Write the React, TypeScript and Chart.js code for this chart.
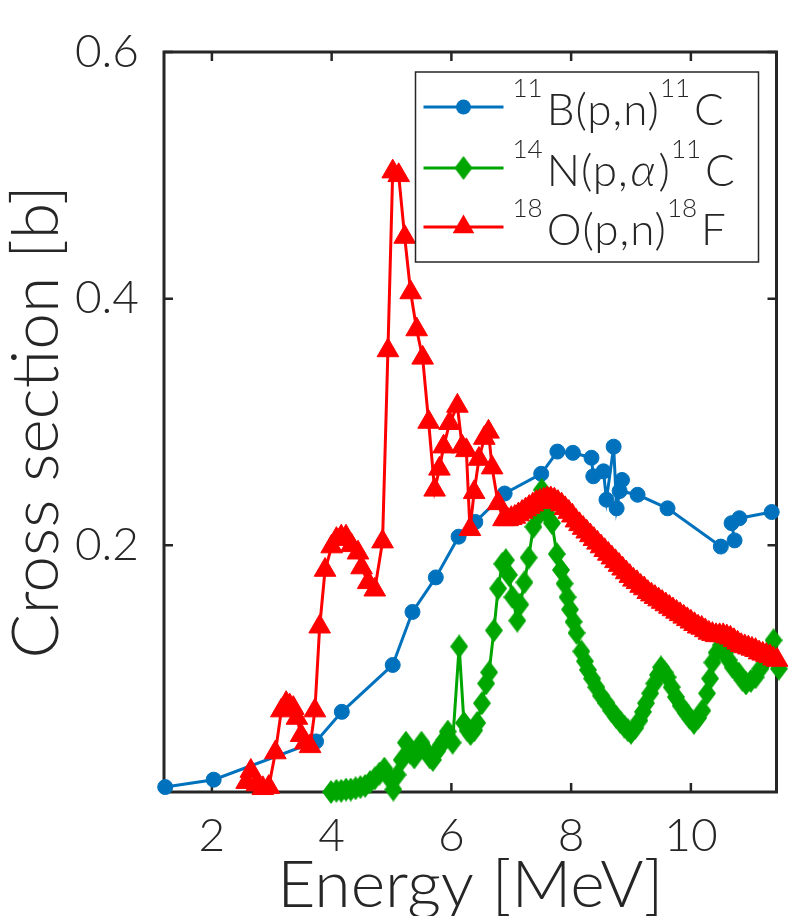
import React, { useEffect, useRef } from "react";
import { Chart, registerables } from "chart.js";

Chart.register(...registerables);

// ---------- data ----------
const X_TICKS = [2, 4, 6, 8, 10];
const X_TICK_LABELS = ["2", "4", "6", "8", "10"];
const Y_TICKS = [0.2, 0.4, 0.6];
const Y_TICK_LABELS = ["0.2", "0.4", "0.6"];
const X_MIN = 1.2;
const X_MAX = 11.43;
const Y_MIN = 0;
const Y_MAX = 0.6;
const X_TITLE = "Energy [MeV]";
const Y_TITLE = "Cross section [b]";
const SERIES_LABELS = ["¹¹B(p,n)¹¹C", "¹⁴N(p,α)¹¹C", "¹⁸O(p,n)¹⁸F"];

// 11B(p,n)11C
const B11_E = [1.22, 2.03, 3.74, 4.17, 5.02, 5.35, 5.74, 6.12, 6.4, 6.89, 7.5, 7.77, 8.03, 8.34, 8.37, 8.54, 8.59, 8.71, 8.76, 8.85, 8.81, 9.11, 9.61, 10.5, 10.73, 10.68, 10.81, 11.35];
const B11_XS = [0.004, 0.010, 0.041, 0.065, 0.103, 0.146, 0.174, 0.207, 0.219, 0.242, 0.258, 0.276, 0.275, 0.271, 0.256, 0.260, 0.237, 0.280, 0.230, 0.253, 0.244, 0.241, 0.230, 0.199, 0.204, 0.218, 0.222, 0.227];

// 14N(p,alpha)11C
const N14_E = [3.99, 4.08, 4.16, 4.24, 4.32, 4.40, 4.48, 4.56, 4.64, 4.72, 4.80, 4.88, 4.95,
  5.03, 5.10, 5.17, 5.24, 5.31, 5.38, 5.45, 5.50, 5.57, 5.64, 5.69, 5.76, 5.82, 5.88, 5.94, 6.02,
  6.13, 6.21, 6.27, 6.32, 6.38, 6.43, 6.51, 6.58, 6.63, 6.71, 6.78, 6.85, 6.91, 6.96, 7.02, 7.10, 7.15, 7.22, 7.29, 7.37, 7.45, 7.51, 7.59, 7.68, 7.76,
  7.83, 7.89, 7.94, 7.98, 8.04, 8.09, 8.17, 8.23, 8.28, 8.35, 8.42, 8.50, 8.59, 8.67, 8.75, 8.82, 8.89, 8.95, 9.00,
  9.07, 9.14, 9.20, 9.25, 9.32, 9.39, 9.45, 9.50, 9.56, 9.61, 9.68, 9.75, 9.83, 9.92, 9.98, 10.05,
  10.12, 10.19, 10.27, 10.32, 10.36, 10.43, 10.50, 10.57, 10.63, 10.70, 10.80, 10.86, 10.92, 11.00, 11.08, 11.16, 11.25, 11.32, 11.38, 11.47];
const N14_XS = [0.000, 0.001, 0.001, 0.002, 0.002, 0.003, 0.004, 0.005, 0.008, 0.011, 0.015, 0.019, 0.012,
  0.002, 0.014, 0.026, 0.040, 0.032, 0.028, 0.035, 0.040, 0.034, 0.028, 0.026, 0.033, 0.038, 0.042, 0.049, 0.040,
  0.118, 0.056, 0.050, 0.047, 0.050, 0.056, 0.072, 0.088, 0.097, 0.131, 0.165, 0.185, 0.188, 0.176, 0.158, 0.139, 0.152, 0.170, 0.190, 0.215, 0.224, 0.245, 0.226, 0.218, 0.193,
  0.180, 0.169, 0.158, 0.148, 0.138, 0.129, 0.114, 0.106, 0.099, 0.092, 0.085, 0.078, 0.072, 0.066, 0.061, 0.057, 0.053, 0.050, 0.048,
  0.052, 0.058, 0.065, 0.072, 0.080, 0.088, 0.095, 0.101, 0.097, 0.093, 0.085, 0.077, 0.070, 0.064, 0.060, 0.056,
  0.060, 0.066, 0.080, 0.092, 0.105, 0.113, 0.119, 0.113, 0.107, 0.101, 0.096, 0.091, 0.088, 0.090, 0.093, 0.100, 0.107, 0.115, 0.123, 0.100];

// 18O(p,n)18F
const O18_E = [2.58, 2.65, 2.75, 2.85, 2.95, 3.06, 3.16, 3.24, 3.30, 3.36, 3.42, 3.49, 3.56, 3.64, 3.72, 3.80, 3.89, 4.00, 4.08, 4.16, 4.24, 4.33, 4.44, 4.50, 4.61, 4.72, 4.85,
  4.94, 5.02, 5.12, 5.22, 5.32, 5.42, 5.52, 5.62, 5.72, 5.80, 5.87, 5.97, 6.10, 6.18, 6.25, 6.31, 6.38, 6.46, 6.55, 6.62, 6.68, 6.78, 6.87,
  6.94, 7.00, 7.06, 7.12, 7.18, 7.24, 7.30, 7.36, 7.42, 7.48, 7.54, 7.60, 7.66, 7.72, 7.78, 7.84, 7.90, 7.96, 8.02, 8.08, 8.14, 8.20, 8.26, 8.32, 8.38, 8.44, 8.50, 8.56, 8.62, 8.68, 8.74, 8.80, 8.86, 8.92, 8.98,
  9.04, 9.10, 9.16, 9.22, 9.28, 9.34, 9.40, 9.46, 9.52, 9.58, 9.64, 9.70, 9.76, 9.82, 9.88, 9.94, 10.00, 10.06, 10.12, 10.18, 10.24, 10.30, 10.36, 10.42, 10.48, 10.54, 10.60, 10.66, 10.72, 10.78, 10.84, 10.90, 10.96, 11.02, 11.08, 11.14, 11.20, 11.26, 11.32, 11.38, 11.44];
const O18_XS = [0.008, 0.017, 0.006, 0.003, 0.004, 0.032, 0.066, 0.072, 0.070, 0.068, 0.060, 0.046, 0.040, 0.037, 0.066, 0.134, 0.180, 0.199, 0.205, 0.207, 0.207, 0.200, 0.194, 0.182, 0.170, 0.164, 0.203,
  0.358, 0.503, 0.500, 0.450, 0.405, 0.375, 0.352, 0.300, 0.245, 0.262, 0.280, 0.299, 0.313, 0.280, 0.277, 0.213, 0.243, 0.270, 0.287, 0.292, 0.263, 0.234, 0.221,
  0.221, 0.222, 0.223, 0.225, 0.227, 0.229, 0.231, 0.233, 0.235, 0.236, 0.237, 0.238, 0.238, 0.237, 0.235, 0.233, 0.230, 0.227, 0.224, 0.220, 0.217, 0.214, 0.211, 0.208, 0.205, 0.202, 0.199, 0.196, 0.193, 0.190, 0.187, 0.184, 0.181, 0.178, 0.175,
  0.172, 0.170, 0.167, 0.165, 0.162, 0.160, 0.158, 0.156, 0.154, 0.152, 0.150, 0.148, 0.146, 0.144, 0.142, 0.140, 0.138, 0.136, 0.134, 0.133, 0.131, 0.129, 0.128, 0.127, 0.127, 0.127, 0.126, 0.125, 0.123, 0.121, 0.119, 0.118, 0.117, 0.116, 0.115, 0.113, 0.112, 0.111, 0.110, 0.108, 0.107];

// ---------- styles ----------
const FONT = "Lato, 'Open Sans', 'DejaVu Sans', sans-serif";
const WEIGHT = 300;
const TEXT = "#262626";
const BLUE = "#0072BD";
const GREEN = "#00A600";
const RED = "#FF0000";

const SUP_MAP: Record<string, string> = {
  "⁰": "0", "¹": "1", "²": "2", "³": "3", "⁴": "4", "⁵": "5", "⁶": "6", "⁷": "7", "⁸": "8", "⁹": "9",
};

function makeDiamond(w: number, h: number, color: string) {
  const c = document.createElement("canvas");
  c.width = w;
  c.height = h;
  const g = c.getContext("2d")!;
  g.fillStyle = color;
  g.beginPath();
  g.moveTo(w / 2, 0);
  g.lineTo(w, h / 2);
  g.lineTo(w / 2, h);
  g.lineTo(0, h / 2);
  g.closePath();
  g.fill();
  return c;
}

function drawRich(ctx: CanvasRenderingContext2D, text: string, x: number, y: number) {
  const runs: { kind: string; s: string }[] = [];
  for (const ch of Array.from(text)) {
    const kind = SUP_MAP[ch] ? "sup" : /[α-ω]/.test(ch) ? "greek" : "main";
    const c = SUP_MAP[ch] ?? ch;
    if (runs.length && runs[runs.length - 1].kind === kind) runs[runs.length - 1].s += c;
    else runs.push({ kind, s: c });
  }
  let cx = x;
  const c2: any = ctx;
  for (const r of runs) {
    if (r.kind === "sup") {
      ctx.font = `${WEIGHT} 26px ${FONT}`;
      c2.letterSpacing = "0px";
    } else if (r.kind === "greek") {
      ctx.font = `italic 300 46px ${FONT}`;
      c2.letterSpacing = "0px";
    } else {
      ctx.font = `${WEIGHT} 44px ${FONT}`;
      c2.letterSpacing = "1px";
    }
    const dy = r.kind === "sup" ? -28 : 0;
    ctx.fillText(r.s, cx + (r.kind === "greek" ? 2 : 0), y + dy);
    cx += ctx.measureText(r.s).width + (r.kind === "sup" ? 4 : r.kind === "greek" ? 5 : 0);
  }
  c2.letterSpacing = "0px";
}

const framePlugin = {
  id: "frame",
  beforeDatasetsDraw(chart: any) {
    const { ctx, chartArea: a, scales } = chart;
    ctx.save();
    ctx.strokeStyle = TEXT;
    ctx.lineWidth = 3;
    ctx.strokeRect(a.left, a.top, a.right - a.left, a.bottom - a.top);
    ctx.lineWidth = 2.5;
    const tl = 9;
    ctx.beginPath();
    for (const v of X_TICKS) {
      const px = scales.x.getPixelForValue(v);
      ctx.moveTo(px, a.bottom);
      ctx.lineTo(px, a.bottom - tl);
      ctx.moveTo(px, a.top);
      ctx.lineTo(px, a.top + tl);
    }
    for (const v of Y_TICKS) {
      const py = scales.y.getPixelForValue(v);
      ctx.moveTo(a.left, py);
      ctx.lineTo(a.left + tl, py);
      ctx.moveTo(a.right, py);
      ctx.lineTo(a.right - tl, py);
    }
    ctx.stroke();
    ctx.restore();
  },
};

const legendPlugin = {
  id: "richLegend",
  afterDatasetsDraw(chart: any) {
    const { ctx, chartArea: a } = chart;
    const w = 343;
    const h = 190;
    const left = a.right - 18 - w;
    const top = a.top + 20;
    ctx.save();
    ctx.fillStyle = "#ffffff";
    ctx.fillRect(left, top, w, h);
    ctx.strokeStyle = TEXT;
    ctx.lineWidth = 1.5;
    ctx.strokeRect(left, top, w, h);
    const rows = [35, 96, 155];
    chart.data.datasets.forEach((ds: any, i: number) => {
      const cy = top + rows[i];
      ctx.strokeStyle = ds.borderColor;
      ctx.lineWidth = ds.borderWidth;
      ctx.beginPath();
      ctx.moveTo(left + 8, cy);
      ctx.lineTo(left + 88, cy);
      ctx.stroke();
      const mx = left + 48;
      ctx.fillStyle = ds.pointBackgroundColor;
      if (ds.pointStyle === "circle") {
        ctx.beginPath();
        ctx.arc(mx, cy, ds.pointRadius, 0, Math.PI * 2);
        ctx.fill();
      } else if (ds.pointStyle === "triangle") {
        const r = ds.pointRadius;
        ctx.beginPath();
        ctx.moveTo(mx, cy - r);
        ctx.lineTo(mx + r * Math.sin((2 * Math.PI) / 3), cy - r * Math.cos((2 * Math.PI) / 3));
        ctx.lineTo(mx + r * Math.sin((4 * Math.PI) / 3), cy - r * Math.cos((4 * Math.PI) / 3));
        ctx.closePath();
        ctx.fill();
      } else if (ds.pointStyle instanceof HTMLCanvasElement) {
        const img = ds.pointStyle;
        ctx.drawImage(img, mx - img.width / 2, cy - img.height / 2);
      }
      ctx.fillStyle = TEXT;
      ctx.textBaseline = "alphabetic";
      ctx.textAlign = "left";
      drawRich(ctx, ds.label, left + 97, cy + 18);
    });
    ctx.restore();
  },
};

function toPoints(xs: number[], ys: number[]) {
  return xs.map((x, i) => ({ x, y: ys[i] }));
}

export default function App() {
  const ref = useRef<HTMLCanvasElement>(null);
  useEffect(() => {
    const canvas = ref.current!;
    const diamond = makeDiamond(18, 24, GREEN);
    const clip = { left: 14, right: 12, top: 0, bottom: 14 };
    const chart = new Chart(canvas, {
      type: "line",
      data: {
        datasets: [
          {
            label: SERIES_LABELS[0],
            data: toPoints(B11_E, B11_XS),
            borderColor: BLUE,
            backgroundColor: BLUE,
            pointBackgroundColor: BLUE,
            pointBorderColor: BLUE,
            borderWidth: 3,
            pointStyle: "circle",
            pointRadius: 7.5,
            pointBorderWidth: 1,
            tension: 0,
            order: 3,
            clip,
          } as any,
          {
            label: SERIES_LABELS[1],
            data: toPoints(N14_E, N14_XS),
            borderColor: GREEN,
            backgroundColor: GREEN,
            pointBackgroundColor: GREEN,
            pointBorderColor: GREEN,
            borderWidth: 3,
            pointStyle: diamond,
            pointRadius: 9,
            pointBorderWidth: 0,
            tension: 0,
            order: 2,
            clip,
          } as any,
          {
            label: SERIES_LABELS[2],
            data: toPoints(O18_E, O18_XS),
            borderColor: RED,
            backgroundColor: RED,
            pointBackgroundColor: RED,
            pointBorderColor: RED,
            borderWidth: 3,
            pointStyle: "triangle",
            pointRadius: 12.5,
            pointBorderWidth: 1,
            tension: 0,
            order: 1,
            clip,
          } as any,
        ],
      },
      options: {
        responsive: false,
        maintainAspectRatio: false,
        devicePixelRatio: 1,
        animation: false,
        layout: { padding: { left: 0, right: 9, top: 52, bottom: 0 } },
        plugins: { legend: { display: false }, tooltip: { enabled: false } },
        scales: {
          x: {
            type: "linear",
            min: X_MIN,
            max: X_MAX,
            afterBuildTicks: (s: any) => {
              s.ticks = X_TICKS.map((v) => ({ value: v }));
            },
            afterFit: (s: any) => {
              s.height = 124;
            },
            grid: { display: false },
            border: { display: false },
            ticks: {
              autoSkip: false,
              maxRotation: 0,
              padding: 9,
              color: TEXT,
              font: { family: FONT, size: 46, weight: WEIGHT },
              callback: (v: any) => X_TICK_LABELS[X_TICKS.indexOf(Number(v))] ?? "",
            },
            title: {
              display: true,
              text: X_TITLE,
              color: TEXT,
              font: { family: FONT, size: 66, lineHeight: 1, weight: WEIGHT },
              padding: { top: 0, bottom: -3 },
            },
          },
          y: {
            type: "linear",
            min: Y_MIN,
            max: Y_MAX,
            afterBuildTicks: (s: any) => {
              s.ticks = Y_TICKS.map((v) => ({ value: v }));
            },
            afterFit: (s: any) => {
              s.width = 164;
            },
            grid: { display: false },
            border: { display: false },
            ticks: {
              autoSkip: false,
              padding: 17,
              color: TEXT,
              font: { family: FONT, size: 46, weight: WEIGHT },
              callback: (v: any) => {
                const i = Y_TICKS.findIndex((t) => Math.abs(t - Number(v)) < 1e-9);
                return i >= 0 ? Y_TICK_LABELS[i] : "";
              },
            },
            title: {
              display: true,
              text: Y_TITLE,
              color: TEXT,
              font: { family: FONT, size: 66, lineHeight: 1, weight: WEIGHT },
              padding: { top: 4, bottom: 0 },
            },
          },
        },
      },
      plugins: [framePlugin, legendPlugin],
    } as any);
    return () => chart.destroy();
  }, []);
  return (
    <div style={{ position: "absolute", left: 0, top: 0, width: 790, height: 916, background: "#ffffff" }}>
      <canvas ref={ref} width={790} height={916} style={{ display: "block" }} />
    </div>
  );
}
